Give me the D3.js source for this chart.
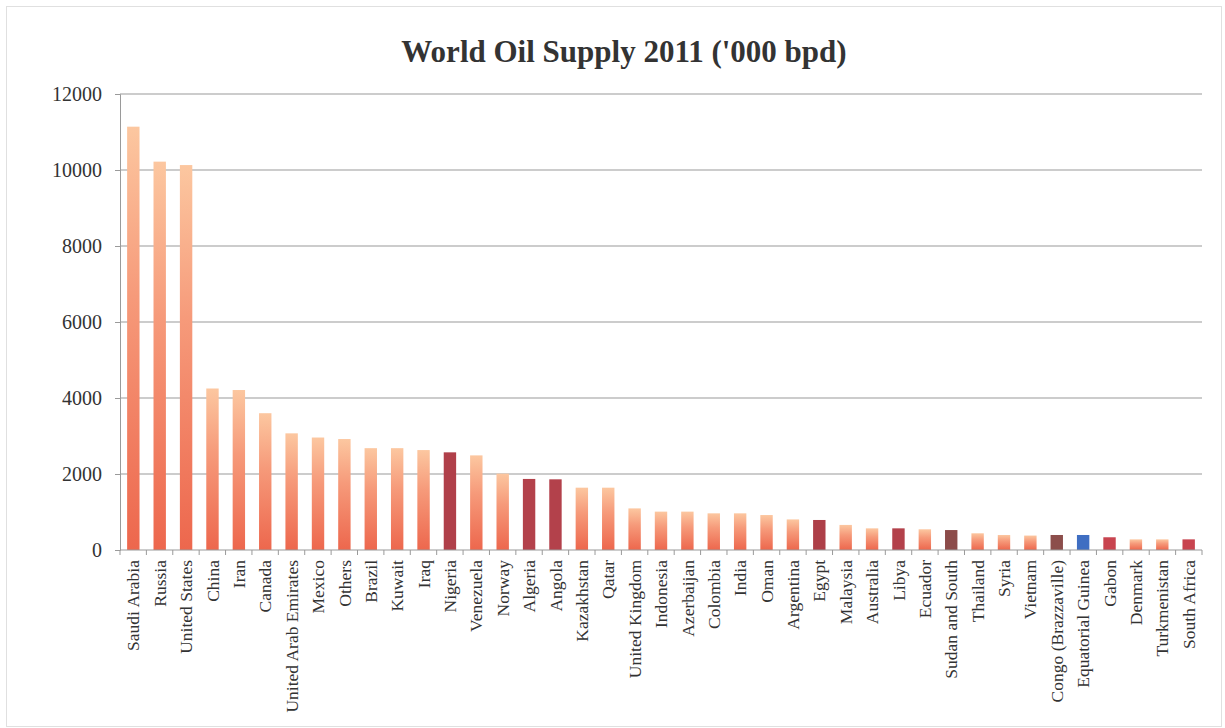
<!DOCTYPE html>
<html>
<head>
<meta charset="utf-8">
<script src="https://cdn.jsdelivr.net/npm/d3@7"></script>
<style>
  html, body { margin: 0; padding: 0; background: #ffffff; }
  svg { display: block; }
  text { font-family: "Liberation Serif", "DejaVu Serif", serif; fill: #333; }
</style>
</head>
<body>
<svg id="chart" width="1225" height="728"></svg>
<script>
// World oil supply 2011, thousand barrels per day
const countries = [
  "Saudi Arabia", "Russia", "United States", "China", "Iran", "Canada",
  "United Arab Emirates", "Mexico", "Others", "Brazil", "Kuwait", "Iraq",
  "Nigeria", "Venezuela", "Norway", "Algeria", "Angola", "Kazakhstan",
  "Qatar", "United Kingdom", "Indonesia", "Azerbaijan", "Colombia", "India",
  "Oman", "Argentina", "Egypt", "Malaysia", "Australia", "Libya", "Ecuador",
  "Sudan and South", "Thailand", "Syria", "Vietnam", "Congo (Brazzaville)",
  "Equatorial Guinea", "Gabon", "Denmark", "Turkmenistan", "South Africa"
];
const supply = [
  11140, 10220, 10130, 4250, 4210, 3600,
  3070, 2960, 2920, 2680, 2680, 2630,
  2570, 2490, 2010, 1870, 1860, 1640,
  1640, 1095, 1010, 1010, 965, 965,
  920, 805, 790, 660, 570, 570, 545,
  525, 440, 395, 380, 395,
  395, 335, 280, 280, 280
];
// Bars that carry their own solid fill instead of the shared gradient
const solidFills = {
  "Nigeria": "#b0404a",
  "Algeria": "#b3414b",
  "Angola": "#b3414b",
  "Egypt": "#ad3f48",
  "Libya": "#b3414b",
  "Sudan and South": "#8c4c4a",
  "Congo (Brazzaville)": "#8c4e4b",
  "Equatorial Guinea": "#3f6ec2",
  "Gabon": "#c8444f",
  "South Africa": "#c8444f"
};
const yTicks = [0, 2000, 4000, 6000, 8000, 10000, 12000];
const title = "World Oil Supply 2011 ('000 bpd)";

const svg = d3.select("#chart");
const W = 1225, H = 728;
const margin = { left: 120, right: 23, top: 94, bottom: 178 };
const plotW = W - margin.left - margin.right;
const plotH = H - margin.top - margin.bottom;

// light frame round the chart
svg.append("rect")
  .attr("x", 6.5).attr("y", 6.5)
  .attr("width", W - 10).attr("height", H - 8)
  .attr("fill", "none").attr("stroke", "#e0e0e0").attr("stroke-width", 1);

const defs = svg.append("defs");
const grad = defs.append("linearGradient")
  .attr("id", "barFill").attr("x1", 0).attr("y1", 0).attr("x2", 0).attr("y2", 1);
grad.append("stop").attr("offset", "0%").attr("stop-color", "#fcc7a0");
grad.append("stop").attr("offset", "40%").attr("stop-color", "#f69a7a");
grad.append("stop").attr("offset", "100%").attr("stop-color", "#ed674d");

const x = d3.scaleBand().domain(countries).range([0, plotW]).paddingInner(0.53).paddingOuter(0.27);
const y = d3.scaleLinear().domain([0, 12000]).range([plotH, 0]);

const g = svg.append("g").attr("transform", `translate(${margin.left},${margin.top})`);

// horizontal gridlines
g.append("g").selectAll("line").data(yTicks.filter(d => d > 0)).join("line")
  .attr("x1", 0).attr("x2", plotW)
  .attr("y1", d => y(d)).attr("y2", d => y(d))
  .attr("stroke", "#9a9a9a").attr("stroke-width", 1.2);

// bars
g.append("g").selectAll("rect").data(countries).join("rect")
  .attr("x", d => x(d))
  .attr("width", x.bandwidth())
  .attr("y", (d, i) => y(supply[i]))
  .attr("height", (d, i) => plotH - y(supply[i]))
  .attr("fill", d => solidFills[d] || "url(#barFill)");

// y axis
const yAxis = g.append("g")
  .call(d3.axisLeft(y).tickValues(yTicks).tickSize(5).tickPadding(13).tickFormat(d3.format("d")));
yAxis.select(".domain").attr("stroke", "#9a9a9a");
yAxis.selectAll(".tick line").attr("stroke", "#9a9a9a");
yAxis.selectAll("text").attr("font-size", 20).attr("fill", "#333")
  .style("font-family", "'Liberation Serif', serif");

// x axis: ticks sit on category boundaries
const xAxisG = g.append("g").attr("transform", `translate(0,${plotH})`);
xAxisG.append("line").attr("x1", 0).attr("x2", plotW).attr("y1", 0).attr("y2", 0)
  .attr("stroke", "#9a9a9a").attr("stroke-width", 1.2);
const bounds = d3.range(countries.length + 1).map(i => i * plotW / countries.length);
xAxisG.selectAll("line.bt").data(bounds).join("line").attr("class", "bt")
  .attr("x1", d => d).attr("x2", d => d).attr("y1", 0).attr("y2", 5)
  .attr("stroke", "#9a9a9a");

const xAxis = xAxisG.append("g")
  .call(d3.axisBottom(x).tickSize(0).tickPadding(0));
xAxis.select(".domain").remove();
xAxis.selectAll("text")
  .attr("font-size", 17.5)
  .attr("fill", "#333")
  .style("font-family", "'Liberation Serif', serif")
  .attr("transform", "rotate(-90)")
  .attr("text-anchor", "end")
  .attr("dy", "0.35em")
  .attr("x", -10)
  .attr("y", 0);

// title
svg.append("text")
  .attr("x", 624).attr("y", 62)
  .attr("text-anchor", "middle")
  .attr("font-size", 31)
  .attr("font-weight", "bold")
  .attr("fill", "#333")
  .text(title);
</script>
</body>
</html>
